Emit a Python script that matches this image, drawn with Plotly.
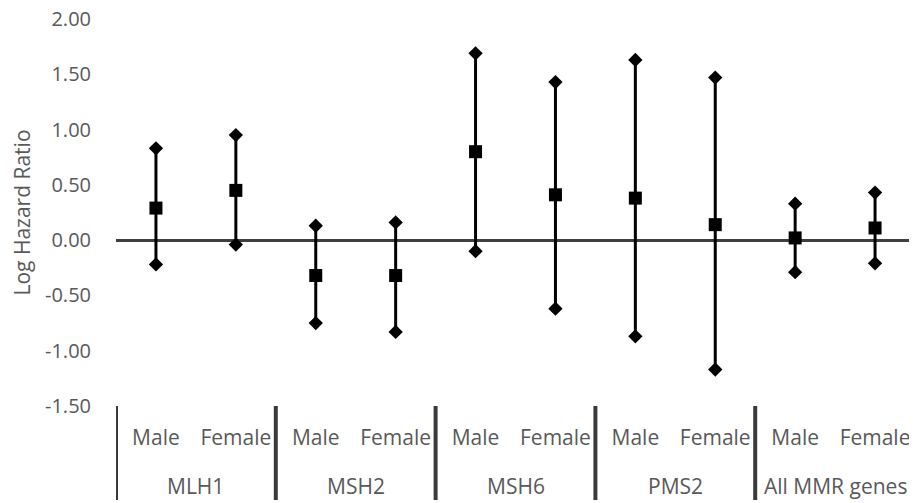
import plotly.graph_objects as go

genes = ["MLH1", "MLH1", "MSH2", "MSH2", "MSH6", "MSH6", "PMS2", "PMS2", "All MMR genes", "All MMR genes"]
sexes = ["Male", "Female"] * 5
log_hr = [0.29, 0.45, -0.32, -0.32, 0.80, 0.41, 0.38, 0.14, 0.02, 0.11]
upper = [0.83, 0.95, 0.13, 0.16, 1.69, 1.43, 1.63, 1.47, 0.33, 0.43]
lower = [-0.22, -0.04, -0.75, -0.83, -0.10, -0.62, -0.87, -1.17, -0.29, -0.21]
y_tickvals = [-1.5, -1.0, -0.5, 0.0, 0.5, 1.0, 1.5, 2.0]
y_ticktext = ["-1.50", "-1.00", "-0.50", "0.00", "0.50", "1.00", "1.50", "2.00"]

pos = list(range(len(sexes)))
err_plus = [u - v for u, v in zip(upper, log_hr)]
err_minus = [v - l for v, l in zip(log_hr, lower)]

fig = go.Figure()
fig.add_trace(go.Scatter(
    x=pos, y=log_hr, mode="markers",
    marker=dict(symbol="square", size=13, color="black"),
    error_y=dict(type="data", symmetric=False, array=err_plus, arrayminus=err_minus,
                 color="black", thickness=3, width=0),
    showlegend=False, hoverinfo="y",
))
fig.add_trace(go.Scatter(
    x=pos, y=upper, mode="markers",
    marker=dict(symbol="diamond", size=11, color="black"),
    showlegend=False, hoverinfo="y",
))
fig.add_trace(go.Scatter(
    x=pos, y=lower, mode="markers",
    marker=dict(symbol="diamond", size=11, color="black"),
    showlegend=False, hoverinfo="y",
))

# group labels and dividers
groups = []
for i, g in enumerate(genes):
    if not groups or groups[-1][0] != g:
        groups.append([g, i, i])
    else:
        groups[-1][2] = i

boundaries = [groups[0][1] - 0.5] + [grp[2] + 0.5 for grp in groups]
for b in boundaries:
    fig.add_shape(type="line", xref="x", yref="paper", x0=b, x1=b, y0=0, y1=-0.243,
                  line=dict(color="#3a3a3a", width=4), layer="above")
for name, i0, i1 in groups:
    fig.add_annotation(x=(i0 + i1) / 2, xref="x", y=-0.207, yref="paper",
                       text=name, showarrow=False, yanchor="middle",
                       font=dict(family="Open Sans", size=21, color="#595959"))

# page body has an 8px default margin; compensate so the plot lands where the reference has it
fig.update_layout(
    width=909, height=495,
    margin=dict(l=108, r=2, t=11, b=97),
    plot_bgcolor="white", paper_bgcolor="white",
    font=dict(family="Open Sans", size=20, color="#595959"),
)
fig.update_yaxes(
    range=[-1.5, 2.0], tickvals=y_tickvals, ticktext=y_ticktext,
    showgrid=False, showline=False, ticks="", ticklabelstandoff=24,
    ticklabeloverflow="allow",
    zeroline=True, zerolinecolor="#404040", zerolinewidth=3,
    title=dict(text="Log Hazard Ratio", font=dict(size=21, color="#595959"), standoff=19),
    tickfont=dict(size=20, color="#595959"), automargin=False,
)
fig.update_xaxes(
    range=[-0.5, len(sexes) - 0.5], tickvals=pos, ticktext=sexes,
    showgrid=False, showline=False, zeroline=False, ticks="", ticklabelstandoff=17,
    ticklabeloverflow="allow",
    tickfont=dict(size=21, color="#595959"), automargin=False,
)
fig.write_html("out.html")
